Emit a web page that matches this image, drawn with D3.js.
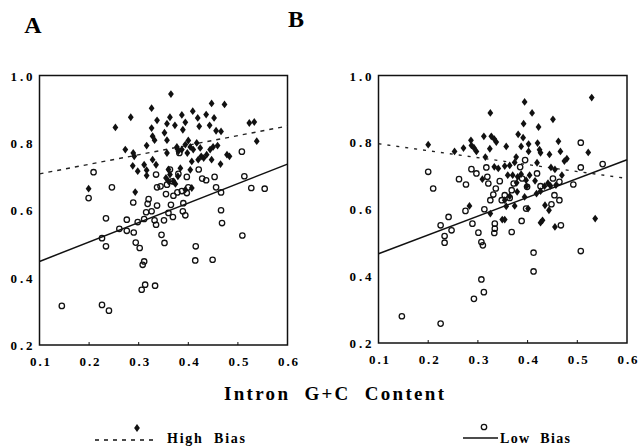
<!DOCTYPE html>
<html><head><meta charset="utf-8">
<script src="https://cdn.jsdelivr.net/npm/d3@7"></script>
<style>html,body{margin:0;padding:0;background:#fff}svg{display:block}</style>
</head><body>
<svg id="c" width="638" height="448"></svg>
<script>
// ---- data ----
const xTicks = [0.1, 0.2, 0.3, 0.4, 0.5, 0.6];
const yTicks = [0.2, 0.4, 0.6, 0.8, 1.0];
const xLabel = "Intron  G+C  Content";
const seriesNames = ["High Bias", "Low Bias"];
const panelNames = ["A", "B"];

const aHigh = [[0.365,0.945],[0.326,0.903],[0.284,0.876],[0.253,0.846],[0.337,0.867],[0.363,0.876],[0.387,0.883],[0.409,0.894],[0.447,0.917],[0.473,0.914],[0.436,0.884],[0.452,0.874],[0.419,0.874],[0.394,0.861],[0.373,0.852],[0.357,0.857],[0.326,0.844],[0.352,0.830],[0.389,0.839],[0.422,0.849],[0.443,0.852],[0.456,0.836],[0.466,0.834],[0.523,0.859],[0.533,0.862],[0.538,0.805],[0.328,0.820],[0.332,0.808],[0.357,0.808],[0.316,0.792],[0.273,0.780],[0.289,0.770],[0.291,0.760],[0.288,0.732],[0.298,0.716],[0.311,0.735],[0.316,0.719],[0.316,0.703],[0.328,0.750],[0.335,0.735],[0.357,0.770],[0.377,0.788],[0.380,0.775],[0.387,0.780],[0.394,0.795],[0.400,0.807],[0.404,0.788],[0.410,0.780],[0.417,0.800],[0.424,0.785],[0.426,0.760],[0.420,0.750],[0.431,0.755],[0.437,0.765],[0.444,0.780],[0.450,0.788],[0.459,0.792],[0.447,0.750],[0.465,0.737],[0.478,0.765],[0.483,0.760],[0.407,0.745],[0.404,0.720],[0.384,0.725],[0.360,0.721],[0.363,0.706],[0.355,0.696],[0.360,0.686],[0.370,0.686],[0.379,0.701],[0.374,0.678],[0.199,0.664],[0.293,0.654],[0.394,0.661],[0.407,0.666],[0.378,0.782],[0.398,0.770]];
const aLow = [[0.145,0.316],[0.226,0.319],[0.240,0.302],[0.306,0.364],[0.313,0.379],[0.333,0.376],[0.308,0.438],[0.311,0.448],[0.414,0.451],[0.449,0.453],[0.415,0.493],[0.509,0.525],[0.302,0.488],[0.294,0.504],[0.352,0.503],[0.346,0.527],[0.234,0.493],[0.226,0.517],[0.290,0.534],[0.276,0.539],[0.261,0.545],[0.234,0.576],[0.276,0.572],[0.298,0.565],[0.311,0.574],[0.332,0.570],[0.335,0.557],[0.351,0.570],[0.369,0.580],[0.360,0.592],[0.394,0.585],[0.389,0.597],[0.365,0.616],[0.390,0.621],[0.337,0.614],[0.318,0.619],[0.315,0.594],[0.326,0.597],[0.289,0.623],[0.320,0.633],[0.199,0.636],[0.246,0.668],[0.209,0.713],[0.337,0.668],[0.344,0.671],[0.335,0.706],[0.355,0.648],[0.370,0.643],[0.378,0.653],[0.387,0.657],[0.397,0.651],[0.400,0.668],[0.397,0.699],[0.421,0.721],[0.428,0.694],[0.436,0.689],[0.453,0.699],[0.456,0.668],[0.466,0.653],[0.466,0.600],[0.468,0.562],[0.513,0.701],[0.527,0.666],[0.508,0.774],[0.554,0.664],[0.363,0.721],[0.368,0.686],[0.380,0.708],[0.382,0.770],[0.357,0.676]];
const bHigh = [[0.529,0.934],[0.394,0.921],[0.325,0.888],[0.409,0.888],[0.392,0.856],[0.422,0.846],[0.451,0.869],[0.200,0.793],[0.253,0.773],[0.271,0.783],[0.286,0.806],[0.287,0.791],[0.292,0.784],[0.297,0.773],[0.312,0.818],[0.315,0.756],[0.327,0.818],[0.333,0.810],[0.337,0.801],[0.324,0.781],[0.357,0.788],[0.381,0.824],[0.391,0.814],[0.387,0.788],[0.402,0.795],[0.402,0.773],[0.420,0.798],[0.424,0.778],[0.426,0.769],[0.444,0.764],[0.462,0.803],[0.466,0.773],[0.479,0.751],[0.474,0.744],[0.522,0.770],[0.419,0.739],[0.447,0.725],[0.455,0.719],[0.469,0.702],[0.333,0.727],[0.341,0.722],[0.354,0.729],[0.364,0.731],[0.374,0.740],[0.377,0.756],[0.360,0.702],[0.370,0.702],[0.380,0.697],[0.387,0.705],[0.397,0.687],[0.404,0.702],[0.398,0.669],[0.394,0.637],[0.401,0.602],[0.379,0.652],[0.364,0.639],[0.354,0.627],[0.357,0.609],[0.374,0.610],[0.349,0.569],[0.354,0.569],[0.325,0.587],[0.309,0.690],[0.283,0.610],[0.434,0.669],[0.426,0.654],[0.418,0.647],[0.441,0.678],[0.446,0.670],[0.435,0.612],[0.443,0.597],[0.426,0.560],[0.430,0.567],[0.455,0.547],[0.536,0.572],[0.457,0.672],[0.415,0.685],[0.378,0.679]];
const bLow = [[0.147,0.280],[0.225,0.258],[0.292,0.332],[0.312,0.352],[0.307,0.390],[0.412,0.414],[0.412,0.470],[0.507,0.475],[0.307,0.502],[0.310,0.492],[0.301,0.530],[0.289,0.557],[0.334,0.557],[0.334,0.542],[0.333,0.529],[0.368,0.532],[0.388,0.565],[0.233,0.520],[0.233,0.500],[0.247,0.537],[0.225,0.552],[0.241,0.577],[0.275,0.595],[0.313,0.600],[0.200,0.712],[0.210,0.662],[0.262,0.690],[0.276,0.674],[0.287,0.720],[0.297,0.707],[0.317,0.725],[0.319,0.697],[0.321,0.677],[0.325,0.627],[0.331,0.644],[0.336,0.662],[0.344,0.684],[0.348,0.627],[0.354,0.642],[0.364,0.634],[0.368,0.657],[0.372,0.677],[0.385,0.726],[0.395,0.747],[0.389,0.692],[0.399,0.667],[0.397,0.602],[0.419,0.707],[0.426,0.669],[0.451,0.692],[0.454,0.642],[0.448,0.615],[0.464,0.627],[0.467,0.552],[0.464,0.682],[0.492,0.674],[0.507,0.799],[0.507,0.725],[0.551,0.735]];
const aHighFit = [[0.1,0.708],[0.6,0.850]];
const aLowFit  = [[0.1,0.448],[0.6,0.737]];
const bHighFit = [[0.1,0.796],[0.6,0.692]];
const bLowFit  = [[0.1,0.467],[0.6,0.748]];

// ---- drawing ----
const svg = d3.select("#c");
const serif = "'Liberation Serif','DejaVu Serif',serif";
const diamond = "M0,-3.9L2.9,0L0,3.9L-2.9,0Z";

const panels = [
  {name: panelNames[0], left: 39.5, right: 287.5, top: 75.5, bottom: 345, high: aHigh, low: aLow, hf: aHighFit, lf: aLowFit, dash: "4,5", lx: 33, ly: 33},
  {name: panelNames[1], left: 378.5, right: 627, top: 75.5, bottom: 343, high: bHigh, low: bLow, hf: bHighFit, lf: bLowFit, dash: "3,6", lx: 296, ly: 27}
];

panels.forEach(p => {
  const x = d3.scaleLinear().domain([0.1, 0.6]).range([p.left, p.right]);
  const y = d3.scaleLinear().domain([0.2, 1.0]).range([p.bottom, p.top]);
  const g = svg.append("g");

  g.append("rect").attr("x", p.left).attr("y", p.top)
    .attr("width", p.right - p.left).attr("height", p.bottom - p.top)
    .attr("fill", "none").attr("stroke", "#111").attr("stroke-width", 1.5);

  const xa = g.append("g").attr("transform", `translate(0,${p.bottom})`)
    .call(d3.axisBottom(x).tickValues(xTicks).tickSize(0).tickPadding(0).tickFormat(d3.format(".1f")));
  xa.select(".domain").remove();
  xa.selectAll("text").attr("y", 21).attr("dy", null)
    .attr("font-family", serif).attr("font-weight", "bold").attr("font-size", 13)
    .attr("fill", "#000").attr("textLength", 20).attr("lengthAdjust", "spacing");
  g.selectAll(".xt").data(xTicks.slice(1, -1)).join("line")
    .attr("x1", d => x(d)).attr("x2", d => x(d))
    .attr("y1", p.bottom).attr("y2", p.bottom - 3)
    .attr("stroke", "#111").attr("stroke-width", 1);

  const ya = g.append("g").attr("transform", `translate(${p.left},0)`)
    .call(d3.axisLeft(y).tickValues(yTicks).tickSize(0).tickPadding(7).tickFormat(d3.format(".1f")));
  ya.select(".domain").remove();
  ya.selectAll("text").attr("dy", "0.35em")
    .attr("font-family", serif).attr("font-weight", "bold").attr("font-size", 13)
    .attr("fill", "#000").attr("textLength", 22).attr("lengthAdjust", "spacing");

  const line = d3.line().x(d => x(d[0])).y(d => y(d[1]));
  g.append("path").attr("d", line(p.hf)).attr("fill", "none")
    .attr("stroke", "#222").attr("stroke-width", 1.4).attr("stroke-dasharray", p.dash);
  g.append("path").attr("d", line(p.lf)).attr("fill", "none")
    .attr("stroke", "#111").attr("stroke-width", 1.5);

  g.selectAll(".lo").data(p.low).join("circle")
    .attr("cx", d => x(d[0])).attr("cy", d => y(d[1])).attr("r", 2.7)
    .attr("fill", "none").attr("stroke", "#111").attr("stroke-width", 1.3);
  g.selectAll(".hi").data(p.high).join("path")
    .attr("d", diamond)
    .attr("transform", d => `translate(${x(d[0])},${y(d[1])})`)
    .attr("fill", "#111");

  svg.append("text").attr("x", p.lx).attr("y", p.ly).attr("text-anchor", "middle")
    .attr("font-family", serif).attr("font-weight", "bold").attr("font-size", 24)
    .attr("fill", "#000").text(p.name);
});

svg.append("text").attr("x", 224).attr("y", 400)
  .attr("font-family", serif).attr("font-weight", "bold").attr("font-size", 19)
  .attr("fill", "#000").attr("textLength", 220).attr("lengthAdjust", "spacing")
  .style("white-space", "pre").text(xLabel);

const lg = svg.append("g");
lg.append("line").attr("x1", 95).attr("x2", 154).attr("y1", 440).attr("y2", 440)
  .attr("stroke", "#111").attr("stroke-width", 1.6).attr("stroke-dasharray", "4,5");
lg.append("path").attr("d", diamond).attr("transform", "translate(137,428)").attr("fill", "#111");
lg.append("text").attr("x", 167).attr("y", 443)
  .attr("font-family", serif).attr("font-weight", "bold").attr("font-size", 14)
  .attr("fill", "#000").attr("textLength", 78).attr("lengthAdjust", "spacing")
  .style("white-space", "pre").text(seriesNames[0].replace(" ", "  "));
lg.append("line").attr("x1", 463).attr("x2", 498).attr("y1", 438).attr("y2", 438)
  .attr("stroke", "#111").attr("stroke-width", 1.6);
lg.append("circle").attr("cx", 484).attr("cy", 427).attr("r", 2.7)
  .attr("fill", "none").attr("stroke", "#111").attr("stroke-width", 1.3);
lg.append("text").attr("x", 500).attr("y", 443)
  .attr("font-family", serif).attr("font-weight", "bold").attr("font-size", 14)
  .attr("fill", "#000").attr("textLength", 70).attr("lengthAdjust", "spacing")
  .style("white-space", "pre").text(seriesNames[1].replace(" ", "  "));
</script>
</body></html>
